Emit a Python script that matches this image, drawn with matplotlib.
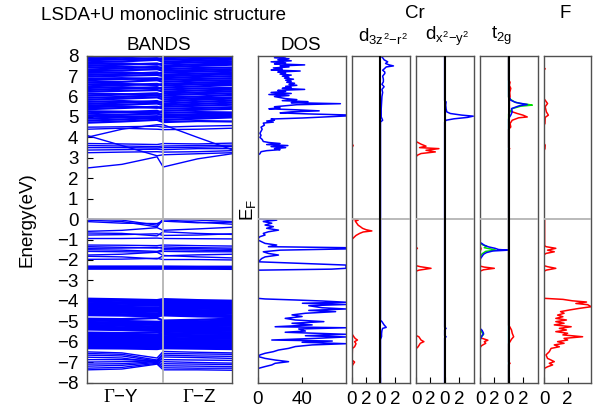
import matplotlib
matplotlib.use("Agg")
import matplotlib.pyplot as plt
import numpy as np

plt.rcParams["font.family"] = ["Liberation Sans", "DejaVu Sans"]
plt.rcParams["mathtext.fontset"] = "custom"
plt.rcParams["mathtext.rm"] = "Liberation Sans"
plt.rcParams["mathtext.it"] = "Liberation Sans"
plt.rcParams["mathtext.sf"] = "Liberation Serif"  # serif Gamma for the k-path labels

FS = 13.5

# ---- band structure: energies (eV) at k = G, mid, Y | G, mid, Z ----
K_POINTS = [0.0, 0.46, 0.92, 1.0, 1.45, 1.9]
K_LABEL_POS = [0.45, 1.47]
K_LABELS = [r"$\mathsf{\Gamma}$−Y", r"$\mathsf{\Gamma}$−Z"]

VB_LOWER = [
    [-6.50, -6.55, -6.80, -6.48, -6.52, -6.55],
    [-6.58, -6.62, -6.90, -6.58, -6.60, -6.62],
    [-6.66, -6.70, -6.95, -6.66, -6.70, -6.72],
    [-6.76, -6.80, -7.02, -6.75, -6.78, -6.82],
    [-6.88, -6.88, -6.92, -6.88, -6.90, -6.92],
    [-7.00, -6.98, -6.94, -6.98, -7.02, -7.05],
    [-7.10, -7.08, -6.98, -7.08, -7.10, -7.12],
    [-7.20, -7.16, -7.02, -7.18, -7.20, -7.22],
    [-7.30, -7.26, -7.06, -7.28, -7.30, -7.30],
    [-7.38, -7.34, -7.10, -7.38, -7.38, -7.40],
]
VB_F = [
    [-3.90, -3.93, -3.97, -3.92, -3.97, -4.00],
    [-3.97, -4.00, -4.05, -3.99, -4.03, -4.06],
    [-4.04, -4.08, -4.12, -4.06, -4.10, -4.12],
    [-4.12, -4.14, -4.18, -4.13, -4.17, -4.20],
    [-4.19, -4.22, -4.24, -4.20, -4.24, -4.27],
    [-4.26, -4.30, -4.34, -4.28, -4.31, -4.33],
    [-4.33, -4.36, -4.40, -4.35, -4.38, -4.41],
    [-4.40, -4.44, -4.47, -4.42, -4.46, -4.48],
    [-4.48, -4.51, -4.53, -4.49, -4.53, -4.56],
    [-4.55, -4.58, -4.62, -4.57, -4.60, -4.62],
    [-4.62, -4.66, -4.70, -4.64, -4.68, -4.71],
    [-4.70, -4.72, -4.76, -4.71, -4.76, -4.79],
    [-4.88, -4.90, -4.84, -4.97, -4.93, -4.88],
    [-4.96, -4.99, -5.03, -5.03, -5.01, -4.98],
    [-5.04, -5.07, -5.10, -5.09, -5.08, -5.06],
    [-5.11, -5.14, -5.18, -5.15, -5.15, -5.14],
    [-5.18, -5.22, -5.26, -5.21, -5.23, -5.22],
    [-5.26, -5.30, -5.33, -5.28, -5.30, -5.30],
    [-5.33, -5.37, -5.41, -5.35, -5.38, -5.38],
    [-5.40, -5.43, -5.47, -5.42, -5.45, -5.46],
    [-5.56, -5.58, -5.55, -5.50, -5.53, -5.54],
    [-5.62, -5.64, -5.66, -5.58, -5.61, -5.62],
    [-5.69, -5.71, -5.73, -5.66, -5.69, -5.70],
    [-5.76, -5.78, -5.80, -5.74, -5.77, -5.78],
    [-5.83, -5.85, -5.87, -5.82, -5.85, -5.86],
    [-5.90, -5.92, -5.95, -5.89, -5.92, -5.94],
    [-5.97, -5.99, -6.02, -5.96, -6.00, -6.02],
    [-6.04, -6.06, -6.09, -6.04, -6.07, -6.09],
    [-6.11, -6.13, -6.16, -6.11, -6.14, -6.16],
    [-6.18, -6.20, -6.23, -6.18, -6.21, -6.23],
    [-6.25, -6.27, -6.30, -6.25, -6.28, -6.30],
    [-6.32, -6.33, -6.36, -6.32, -6.34, -6.36],
]
VB_CR = [
    [0.00, -0.05, -0.30, 0.00, -0.05, -0.12],
    [-0.05, -0.12, -0.38, -0.03, -0.15, -0.25],
    [-0.12, -0.20, -0.22, -0.10, -0.18, -0.15],
    [-0.60, -0.55, -0.42, -0.55, -0.48, -0.40],
    [-0.68, -0.70, -0.82, -0.62, -0.70, -0.75],
    [-0.78, -0.76, -0.72, -0.80, -0.78, -0.72],
    [-0.95, -0.95, -0.93, -0.95, -0.96, -0.97],
    [-1.27, -1.28, -1.30, -1.27, -1.30, -1.32],
    [-1.35, -1.38, -1.42, -1.36, -1.40, -1.42],
    [-1.43, -1.42, -1.38, -1.44, -1.45, -1.48],
    [-1.50, -1.52, -1.58, -1.50, -1.52, -1.55],
    [-1.58, -1.60, -1.62, -1.58, -1.60, -1.60],
    [-1.76, -1.72, -1.62, -1.78, -1.85, -1.90],
    [-1.82, -1.85, -1.95, -1.80, -1.75, -1.72],
    [-1.97, -1.96, -1.92, -1.98, -1.98, -2.00],
    [-2.30, -2.30, -2.30, -2.30, -2.31, -2.31],
    [-2.33, -2.33, -2.34, -2.33, -2.34, -2.35],
    [-2.37, -2.37, -2.37, -2.37, -2.38, -2.38],
    [-2.41, -2.41, -2.42, -2.41, -2.42, -2.42],
    [-2.45, -2.45, -2.45, -2.45, -2.45, -2.46],
]
CB_LOWER = [
    [2.50, 2.68, 3.05, 2.55, 2.95, 3.20],
    [4.10, 3.60, 3.10, 3.15, 3.20, 3.25],
    [3.25, 3.28, 3.30, 3.28, 3.30, 3.35],
    [3.38, 3.40, 3.42, 3.40, 3.45, 3.45],
    [3.50, 3.50, 3.48, 3.50, 3.52, 3.55],
    [3.60, 3.58, 3.55, 3.58, 3.60, 3.62],
    [3.70, 3.68, 3.65, 3.70, 3.68, 3.72],
    [4.00, 4.40, 4.62, 4.62, 4.00, 3.40],
    [4.40, 4.45, 4.40, 4.38, 4.40, 4.45],
    [4.50, 4.52, 4.55, 4.50, 4.55, 4.58],
]
CB_UPPER = [
    [4.72, 4.78, 4.86, 4.75, 4.80, 4.78],
    [4.82, 4.88, 4.95, 4.85, 4.92, 4.98],
    [4.92, 4.98, 5.04, 4.96, 5.00, 5.04],
    [5.02, 5.04, 5.00, 5.04, 5.08, 5.10],
    [5.08, 5.12, 5.16, 5.10, 5.14, 5.18],
    [5.18, 5.24, 5.30, 5.20, 5.24, 5.22],
    [5.28, 5.26, 5.20, 5.30, 5.35, 5.40],
    [5.38, 5.44, 5.50, 5.40, 5.44, 5.48],
    [5.48, 5.52, 5.45, 5.50, 5.55, 5.60],
    [5.56, 5.60, 5.66, 5.58, 5.64, 5.70],
    [5.64, 5.70, 5.78, 5.66, 5.74, 5.80],
    [5.74, 5.78, 5.72, 5.76, 5.84, 5.90],
    [5.84, 5.90, 5.96, 5.86, 5.92, 5.96],
    [5.94, 5.98, 6.06, 5.96, 6.00, 6.08],
    [6.04, 6.10, 6.16, 6.06, 6.12, 6.16],
    [6.14, 6.12, 6.06, 6.16, 6.20, 6.26],
    [6.24, 6.28, 6.32, 6.24, 6.30, 6.34],
    [6.32, 6.38, 6.46, 6.34, 6.40, 6.42],
    [6.42, 6.46, 6.40, 6.44, 6.50, 6.56],
    [6.50, 6.56, 6.62, 6.54, 6.60, 6.62],
    [6.60, 6.62, 6.56, 6.62, 6.68, 6.72],
    [6.70, 6.72, 6.80, 6.72, 6.78, 6.80],
    [6.80, 6.86, 6.90, 6.82, 6.86, 6.90],
    [6.88, 6.90, 6.84, 6.90, 6.96, 7.00],
    [6.98, 7.02, 7.06, 7.00, 7.04, 7.10],
    [7.06, 7.10, 7.18, 7.08, 7.12, 7.16],
    [7.16, 7.18, 7.12, 7.18, 7.22, 7.26],
    [7.24, 7.28, 7.34, 7.26, 7.30, 7.34],
    [7.32, 7.38, 7.46, 7.34, 7.40, 7.42],
    [7.42, 7.46, 7.40, 7.44, 7.50, 7.56],
    [7.50, 7.56, 7.62, 7.52, 7.58, 7.62],
    [7.60, 7.62, 7.56, 7.62, 7.68, 7.70],
    [7.68, 7.72, 7.80, 7.70, 7.76, 7.80],
    [7.78, 7.82, 7.88, 7.80, 7.84, 7.88],
    [7.86, 7.90, 7.84, 7.88, 7.92, 7.96],
    [7.94, 7.98, 8.05, 7.96, 8.00, 8.06],
]

# ---- total DOS: (energy, states/eV) ----
DOS_TOTAL = [
    (8.0, 20), (7.95, 25), (7.9, 15), (7.85, 28), (7.8, 18), (7.75, 30),
    (7.7, 12), (7.65, 25), (7.6, 15), (7.55, 42), (7.5, 20), (7.45, 28),
    (7.4, 14), (7.35, 22), (7.3, 12), (7.25, 38), (7.2, 18), (7.15, 25),
    (7.1, 20), (7.05, 30), (7.0, 22), (6.95, 28), (6.9, 24), (6.85, 32),
    (6.8, 25), (6.75, 30), (6.7, 26), (6.65, 33), (6.6, 28), (6.55, 35),
    (6.5, 25), (6.45, 30), (6.4, 22), (6.35, 42), (6.3, 18), (6.25, 25),
    (6.2, 12), (6.15, 30), (6.1, 10), (6.05, 28), (6.0, 15), (5.95, 20),
    (5.9, 25), (5.85, 35), (5.8, 22), (5.75, 45), (5.7, 30), (5.65, 74),
    (5.6, 35), (5.55, 25), (5.5, 15), (5.45, 20), (5.4, 10), (5.35, 35),
    (5.3, 55), (5.25, 30), (5.2, 20), (5.15, 45), (5.1, 79), (5.05, 79),
    (5.0, 60), (4.95, 40), (4.9, 12), (4.85, 15), (4.8, 8), (4.75, 14),
    (4.7, 5), (4.6, 6), (4.5, 3), (4.4, 4), (4.3, 3), (4.2, 2), (4.1, 3),
    (4.0, 2), (3.9, 4), (3.8, 5), (3.75, 10), (3.7, 20), (3.65, 8),
    (3.6, 27), (3.55, 12), (3.5, 25), (3.45, 15), (3.4, 20), (3.35, 8),
    (3.3, 3), (3.2, 2), (3.15, 0.5), (3.0, 0.3), (0.0, 0.3),
    (-0.05, 17), (-0.12, 5), (-0.2, 12.6), (-0.29, 6.6), (-0.37, 14),
    (-0.45, 8), (-0.54, 18.6), (-0.62, 9.6), (-0.7, 5), (-0.78, 6.6),
    (-0.86, 2), (-0.95, 0.3), (-1.03, 0.5), (-1.19, 6.6), (-1.27, 17),
    (-1.35, 9.6), (-1.40, 79), (-1.46, 79), (-1.52, 20), (-1.6, 5),
    (-1.68, 9.6), (-1.76, 18.6), (-1.85, 6.6), (-1.93, 3.6), (-2.09, 0.5),
    (-2.25, 79), (-2.33, 79), (-2.41, 79), (-2.45, 66), (-2.5, 0.5),
    (-3.88, 0.3), (-3.91, 6.6), (-3.96, 33.7), (-4.01, 57.7), (-4.07, 79),
    (-4.12, 40), (-4.18, 79), (-4.24, 45.7), (-4.34, 57.7), (-4.40, 79),
    (-4.47, 45.7), (-4.53, 69.7), (-4.61, 42.7), (-4.69, 30.7), (-4.77, 39.7),
    (-4.86, 24.6), (-4.94, 33.7), (-5.02, 59.2), (-5.10, 30.7), (-5.18, 48.7),
    (-5.27, 15.6), (-5.32, 79), (-5.38, 36.7), (-5.48, 42.7), (-5.54, 24.6),
    (-5.64, 79), (-5.71, 42.7), (-5.77, 79), (-5.84, 51.7), (-5.92, 12.6),
    (-5.97, 66.7), (-6.03, 39.7), (-6.10, 79), (-6.16, 48.7), (-6.24, 33.7),
    (-6.33, 27.6), (-6.41, 18.6), (-6.49, 14), (-6.57, 6.6), (-6.65, 2),
    (-6.73, 0.5), (-6.82, 6.6), (-6.9, 15.6), (-6.98, 27.6), (-7.06, 15.6),
    (-7.14, 12.6), (-7.22, 6.6), (-7.31, 0.5), (-7.47, 0), (-8.0, 0),
]

# ---- Cr d projections: (energy, states/eV); left half / right half ----
D3Z2_LEFT = [
    (8.0, 0), (3.7, 0), (3.6, 0.2), (3.5, 0), (0.0, 0), (-0.02, 0.3),
    (-0.05, 0.9), (-0.1, 0.5), (-0.2, 0.7), (-0.3, 0.9), (-0.37, 1.2),
    (-0.45, 1.5), (-0.52, 2.0), (-0.58, 2.8), (-0.63, 1.6), (-0.7, 1.1),
    (-0.8, 0.6), (-0.9, 0.3), (-0.95, 0.15), (-1.0, 0), (-5.6, 0),
    (-5.76, 0.3), (-5.85, 0.5), (-5.92, 0.8), (-6.0, 0.4), (-6.1, 0.6),
    (-6.25, 0.4), (-6.33, 0.1), (-6.9, 0.05), (-7.0, 0.4), (-7.1, 0.2),
    (-7.2, 0.05), (-8.0, 0),
]
D3Z2_RIGHT = [
    (8.0, 0), (7.9, 0.3), (7.8, 0.5), (7.7, 1.0), (7.62, 0.7), (7.55, 1.2),
    (7.5, 1.8), (7.45, 0.8), (7.35, 0.5), (7.29, 0.3), (7.2, 0.6),
    (7.13, 0.6), (7.0, 0.3), (6.85, 0.4), (6.72, 0.4), (6.6, 0.2),
    (6.48, 0.5), (6.35, 0.2), (6.2, 0.3), (6.0, 0.2), (5.7, 0.15),
    (5.4, 0.1), (5.0, 0.1), (4.84, 0.3), (4.75, 0), (-4.95, 0),
    (-5.02, 0.2), (-5.18, 0.5), (-5.3, 0.8), (-5.35, 0.3), (-5.45, 0.2),
    (-5.6, 0.15), (-5.75, 0.15), (-5.9, 0), (-8.0, 0),
]
DX2_LEFT = [
    (8.0, 0), (3.8, 0), (3.78, 0.1), (3.67, 0.7), (3.57, 1.4), (3.5, 0.5),
    (3.45, 3.2), (3.37, 1.4), (3.29, 2.7), (3.21, 0.7), (3.13, 0.2),
    (3.05, 0), (-1.38, 0), (-1.43, 0.2), (-1.48, 0), (-2.28, 0),
    (-2.33, 0.6), (-2.41, 2.1), (-2.5, 0.4), (-2.55, 0), (-5.7, 0),
    (-5.76, 0.4), (-5.92, 0.7), (-6.0, 1.1), (-6.08, 0.6), (-6.25, 0.3),
    (-6.35, 0), (-8.0, 0),
]
DX2_RIGHT = [
    (8.0, 0), (5.8, 0), (5.74, 0.2), (5.58, 0.15), (5.4, 0.2), (5.25, 0.3),
    (5.17, 0.8), (5.09, 2.4), (5.04, 4.0), (4.98, 3.2), (4.91, 1.3),
    (4.84, 0.2), (4.75, 0), (-5.3, 0), (-5.35, 0.2), (-5.42, 0),
    (-5.7, 0), (-5.76, 0.2), (-5.82, 0), (-8.0, 0),
]
T2G_LEFT_RED = [
    (8.0, 0), (-1.3, 0), (-1.45, 0.15), (-1.6, 0), (-2.3, 0), (-2.35, 0.6),
    (-2.41, 2.0), (-2.48, 0.5), (-2.55, 0), (-5.8, 0), (-5.85, 0.4),
    (-5.93, 1.1), (-6.0, 0.6), (-6.08, 0.8), (-6.2, 0.2), (-6.3, 0),
    (-8.0, 0),
]
T2G_LEFT_GREEN = [
    (8.0, 0), (-1.15, 0), (-1.25, 0.3), (-1.32, 0.9), (-1.4, 0.6),
    (-1.47, 1.6), (-1.52, 2.2), (-1.58, 0.8), (-1.7, 0.3), (-1.85, 0),
    (-5.4, 0), (-5.55, 0.3), (-5.65, 0.5), (-5.75, 0.2), (-5.9, 0),
    (-8.0, 0),
]
T2G_LEFT_BLUE = [
    (8.0, 0), (-1.15, 0), (-1.19, 0.25), (-1.28, 0.6), (-1.36, 1.2),
    (-1.43, 2.1), (-1.49, 2.6), (-1.52, 4.0), (-1.56, 1.8), (-1.64, 0.9),
    (-1.72, 0.5), (-1.82, 0.3), (-1.92, 0.1), (-2.0, 0), (-5.35, 0),
    (-5.45, 0.3), (-5.6, 0.5), (-5.7, 0.3), (-5.85, 0.1), (-5.95, 0),
    (-8.0, 0),
]
T2G_RIGHT_RED = [
    (8.0, 0), (6.8, 0), (6.7, 0.2), (6.55, 0.1), (6.4, 0.3), (6.2, 0.15),
    (6.0, 0.2), (5.8, 0.1), (5.3, 0.1), (5.17, 1.2), (5.09, 2.0),
    (5.0, 2.6), (4.96, 1.4), (4.84, 0.5), (4.68, 0.2), (4.51, 0.3),
    (4.4, 0), (3.5, 0), (3.45, 0.15), (3.4, 0), (-5.2, 0), (-5.27, 0.15),
    (-5.43, 0.4), (-5.59, 0.5), (-5.76, 0.7), (-5.88, 0.4), (-6.0, 0.2),
    (-6.1, 0), (-7.0, 0), (-7.06, 0.2), (-7.12, 0), (-8.0, 0),
]
T2G_RIGHT_GREEN = [
    (8.0, 0), (5.95, 0), (5.9, 0.1), (5.74, 0.8), (5.66, 1.6), (5.62, 2.6),
    (5.58, 3.3), (5.53, 1.7), (5.41, 0.5), (5.25, 0.2), (5.15, 0),
    (-8.0, 0),
]
T2G_RIGHT_BLUE = [
    (8.0, 0), (5.98, 0), (5.95, 0.1), (5.82, 0.3), (5.71, 1.0), (5.61, 2.6),
    (5.55, 1.5), (5.41, 0.4), (5.25, 0.5), (5.09, 0.3), (4.98, 0.1),
    (4.9, 0), (-8.0, 0),
]

# ---- F p projection ----
F_DOS = [
    (8.0, 0), (7.4, 0), (7.36, 0.1), (7.3, 0), (5.9, 0), (5.82, 0.1),
    (5.66, 0.3), (5.5, 0.1), (5.25, 0.2), (5.09, 0.37), (4.98, 0.1),
    (4.68, 0.08), (4.6, 0), (3.7, 0), (3.62, 0.1), (3.45, 0.08), (3.35, 0),
    (0.0, 0), (-0.05, 0.05), (-1.3, 0.05), (-1.35, 0.17), (-1.43, 1.0),
    (-1.52, 0.3), (-1.6, 0.87), (-1.68, 0.17), (-1.75, 0), (-2.28, 0),
    (-2.33, 0.3), (-2.41, 1.0), (-2.5, 0.17), (-2.56, 0), (-3.85, 0),
    (-3.88, 0.05), (-3.93, 1.6), (-4.0, 2.4), (-4.06, 3.6), (-4.13, 2.7),
    (-4.19, 3.7), (-4.29, 4.0), (-4.37, 3.0), (-4.45, 2.15), (-4.53, 1.4),
    (-4.61, 1.7), (-4.7, 1.15), (-4.78, 1.6), (-4.86, 1.0), (-4.94, 1.9),
    (-5.02, 1.0), (-5.1, 1.7), (-5.18, 0.87), (-5.27, 2.3), (-5.35, 1.3),
    (-5.43, 1.9), (-5.51, 1.0), (-5.59, 2.0), (-5.67, 1.6), (-5.76, 3.27),
    (-5.84, 1.7), (-5.92, 2.0), (-6.0, 1.15), (-6.08, 1.7), (-6.16, 0.87),
    (-6.25, 1.3), (-6.33, 0.6), (-6.49, 0.45), (-6.65, 0.17), (-6.82, 0.3),
    (-6.9, 0.6), (-6.98, 0.87), (-7.06, 0.45), (-7.14, 0.73), (-7.23, 0.3),
    (-7.31, 0.03), (-8.0, 0),
]

W, H = 598, 416
Y_TOP, Y_BOT = 55.7, 382.5
GRID_GREY = "#b4b4b4"
FRAME = "#505050"


def _rect(x0, x1):
    return [x0 / W, 1 - Y_BOT / H, (x1 - x0) / W, (Y_BOT - Y_TOP) / H]


def _style(ax):
    ax.set_ylim(-8, 8)
    for sp in ax.spines.values():
        sp.set_color(FRAME)
        sp.set_linewidth(1.0)
    ax.tick_params(direction="in", length=4, width=0.8, labelsize=FS,
                   pad=6, colors="black")
    ax.axhline(0, color=GRID_GREY, lw=1.3, zorder=4)


def _curve(ax, pairs, color, shift=0.0):
    e, d = np.array(pairs, dtype=float).T
    ax.plot(d + shift, e, color=color, lw=1.1, zorder=2)


fig = plt.figure(figsize=(W / 100, H / 100), dpi=100)

# bands: the packed F-p and upper Cr manifolds get a heavier stroke
ax_b = fig.add_axes(_rect(86.7, 232.0))
_style(ax_b)
for group, lw in ((VB_LOWER, 1.0), (VB_F, 1.7), (VB_CR, 1.0),
                  (CB_LOWER, 1.0), (CB_UPPER, 1.6)):
    for row in group:
        ax_b.plot(K_POINTS, row, color="blue", lw=lw, zorder=2)
ax_b.axvline(1.0, color=GRID_GREY, lw=1.3, zorder=4)
ax_b.set_xlim(0, 1.9)
ax_b.set_yticks(range(-8, 9))
ax_b.set_xticks(K_LABEL_POS)
ax_b.set_xticklabels(K_LABELS)
ax_b.tick_params(axis="x", length=0, pad=5)

# total DOS
ax_d = fig.add_axes(_rect(257.7, 346.0))
_style(ax_d)
_curve(ax_d, DOS_TOTAL, "blue")
ax_d.set_xlim(0, 79)
ax_d.set_xticks([0, 40])
ax_d.set_yticks([])

# Cr d projections: left half 0..4, right half 4..8 with a separator
cr_panels = [
    (351.7, 410.0, [(D3Z2_LEFT, "red")], [(D3Z2_RIGHT, "blue")]),
    (416.0, 474.0, [(DX2_LEFT, "red")], [(DX2_RIGHT, "blue")]),
    (480.0, 538.0,
     [(T2G_LEFT_RED, "red"), (T2G_LEFT_GREEN, "#00e000"), (T2G_LEFT_BLUE, "blue")],
     [(T2G_RIGHT_RED, "red"), (T2G_RIGHT_GREEN, "#00e000"), (T2G_RIGHT_BLUE, "blue")]),
]
for x0, x1, left, right in cr_panels:
    ax = fig.add_axes(_rect(x0, x1))
    _style(ax)
    for pairs, col in left:
        _curve(ax, pairs, col)
    for pairs, col in right:
        _curve(ax, pairs, col, shift=4.0)
    ax.axvline(4.0, color="black", lw=1.5, zorder=5)
    ax.set_xlim(0, 8.1)
    ax.set_xticks([0, 2, 4, 6])
    ax.set_xticklabels(["0", "2", "0", "2"])
    ax.set_yticks([])

# F projection
ax_f = fig.add_axes(_rect(544.0, 591.0))
_style(ax_f)
_curve(ax_f, F_DOS, "red")
ax_f.set_xlim(0, 3.98)
ax_f.set_xticks([0, 2])
ax_f.set_yticks([])


def _label(x, y, s, ha="center", **kw):
    fig.text(x / W, 1 - y / H, s, fontsize=FS, ha=ha, va="center", **kw)


_label(41, 16, "LSDA+U monoclinic structure", ha="left")
_label(159, 45, "BANDS")
_label(301, 45, "DOS")
_label(415, 14, "Cr")
_label(565, 14, "F")
_label(383, 36, r"d$_{3z^2{-}r^2}$")
_label(447, 36, r"d$_{x^2{-}y^2}$")
_label(502, 36, r"t$_{2g}$")
_label(248, 210, r"E$_F$", rotation=90)
_label(27, 220, "Energy(eV)", rotation=90)

fig.savefig("out.png", dpi=100)
